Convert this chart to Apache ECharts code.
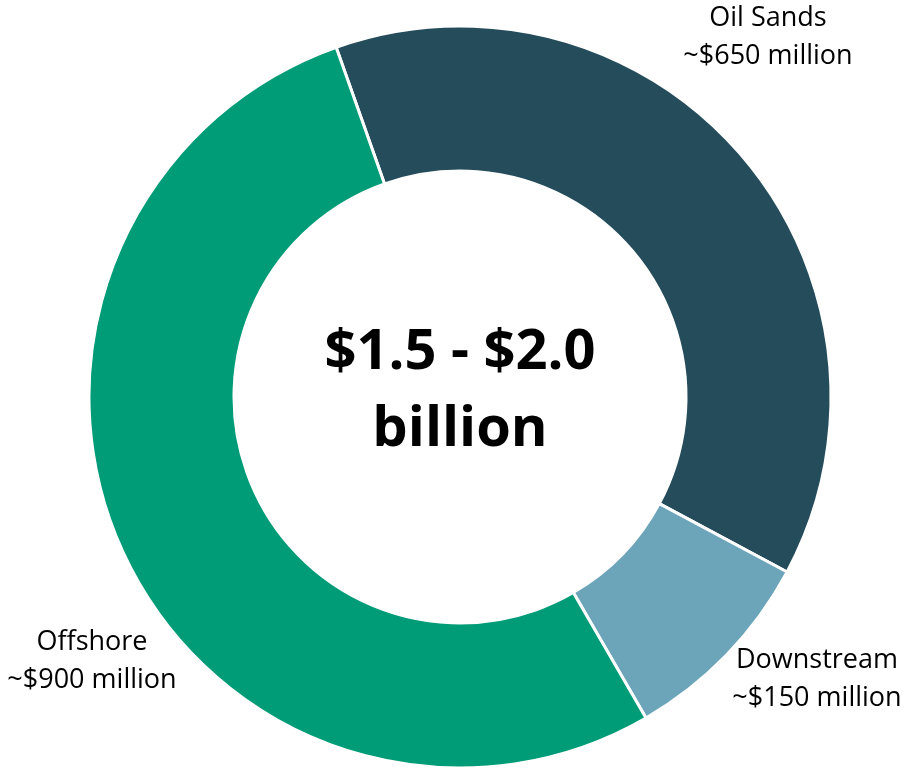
<!DOCTYPE html>
<html>
<head>
<meta charset="utf-8">
<script src="https://cdn.jsdelivr.net/npm/echarts@6/dist/echarts.min.js"></script>
<style>
  html, body { margin: 0; padding: 0; background: #fff; }
  #chart { width: 907px; height: 769px; }
</style>
</head>
<body>
<div id="chart"></div>
<script>
// segments, clockwise from just left of 12 o'clock
const segments = ['Oil Sands', 'Downstream', 'Offshore']
const values = [650, 150, 900]
const valueLabels = ['~$650 million', '~$150 million', '~$900 million']
const colors = ['#244c5a', '#6ca4ba', '#009b77']
const centerLines = ['$1.5 - $2.0', 'billion']

// where each label block sits (center of text)
const labelPos = [[768, 37], [817, 679], [92, 661]]

const chart = echarts.init(document.getElementById('chart'))
const font = '"Open Sans", sans-serif'

chart.setOption({
  animation: false,
  series: [
    {
      type: 'pie',
      center: [460, 397],
      radius: [226, 371],
      startAngle: 109.5,
      clockwise: true,
      itemStyle: {
        borderColor: '#fff',
        borderWidth: 3
      },
      label: {
        show: true,
        position: 'outside',
        color: '#000',
        fontFamily: font,
        fontSize: 27,
        lineHeight: 38,
        align: 'center',
        overflow: 'none',
        formatter: p => p.name + '\n' + valueLabels[p.dataIndex]
      },
      labelLine: { show: false },
      labelLayout: p => ({
        x: labelPos[p.dataIndex][0],
        y: labelPos[p.dataIndex][1],
        align: 'center',
        verticalAlign: 'middle'
      }),
      data: segments.map((s, i) => ({
        name: s,
        value: values[i],
        itemStyle: { color: colors[i] }
      }))
    }
  ],
  graphic: [
    {
      type: 'text',
      x: 460,
      y: 392,
      style: {
        text: centerLines.join('\n'),
        font: 'bold 56px ' + font,
        lineHeight: 77,
        fill: '#000',
        align: 'center',
        verticalAlign: 'middle'
      }
    }
  ]
})
</script>
</body>
</html>
